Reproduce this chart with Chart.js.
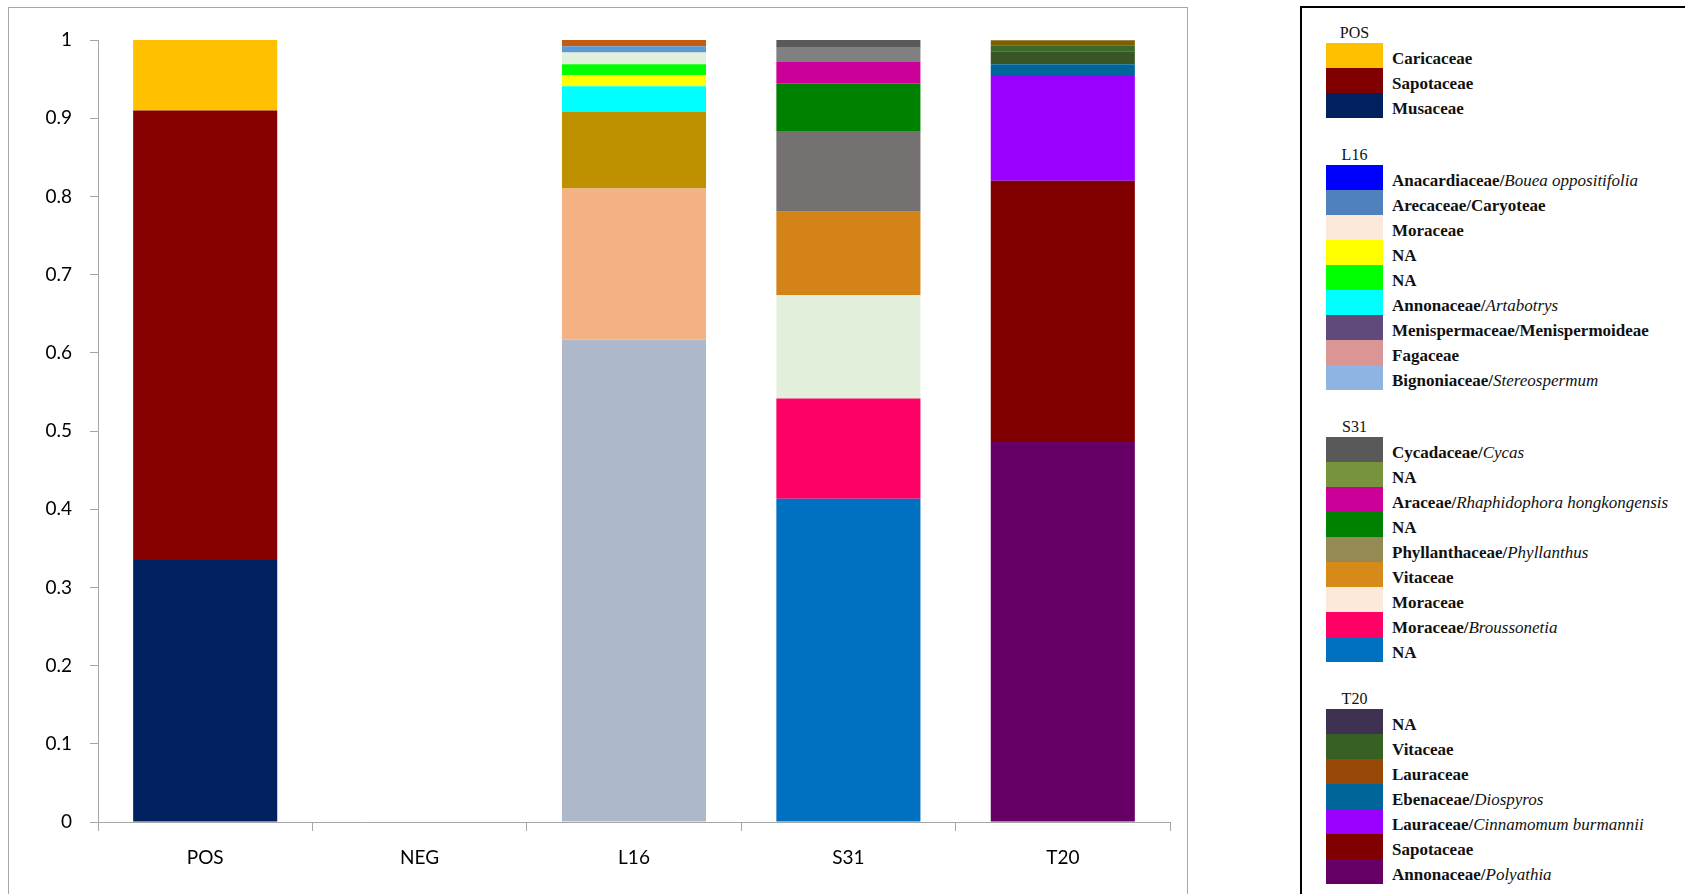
<!DOCTYPE html>
<html>
<head>
<meta charset="utf-8">
<script src="https://cdn.jsdelivr.net/npm/chart.js@4.4.1/dist/chart.umd.min.js"></script>
<style>
  body { margin: 0; background: #fff; width: 1685px; height: 894px; overflow: hidden; position: relative; }
  #plotFrame { position: absolute; left: 8px; top: 7px; width: 1178px; height: 900px; border: 1px solid #A6A6A6; }
  #chartBox { position: absolute; left: 0; top: 0; width: 1190px; height: 894px; }
  #legend { position: absolute; left: 1300px; top: 6px; width: 420px; height: 920px; border: 2px solid #000;
            box-sizing: border-box; padding: 15px 0 0 24px; font-family: "Liberation Serif", "DejaVu Serif", serif; color: #111; }
  .group { margin-bottom: 27px; }
  .head { width: 57px; height: 20px; line-height: 20px; text-align: center; font-size: 16px; }
  .row { height: 25px; display: flex; align-items: center; }
  .sw { width: 57px; height: 25px; flex: none; }
  .lbl { margin-left: 9px; font-size: 17px; font-weight: bold; position: relative; top: 3px; white-space: nowrap; }
  .lbl i { font-weight: normal; }
</style>
</head>
<body>
<div id="plotFrame"></div>
<div id="chartBox"><canvas id="chart"></canvas></div>
<div id="legend"></div>
<script>
// categories on the x axis
const samples = ["POS", "NEG", "L16", "S31", "T20"];
const yTicks = [0, 0.1, 0.2, 0.3, 0.4, 0.5, 0.6, 0.7, 0.8, 0.9, 1];
const yTickLabels = ["0", "0.1", "0.2", "0.3", "0.4", "0.5", "0.6", "0.7", "0.8", "0.9", "1"];

// every list below runs from the bottom of the bar to the top
const posNames = ["Musaceae", "Sapotaceae", "Caricaceae"];
const posValues = [0.335, 0.575, 0.09];
const posBarColors = ["#002060", "#860000", "#FFC000"];
const posLegendColors = ["#002060", "#800000", "#FFC000"];

const l16Names = ["Bignoniaceae/<i>Stereospermum</i>", "Fagaceae", "Menispermaceae/Menispermoideae",
  "Annonaceae/<i>Artabotrys</i>", "NA", "NA", "Moraceae", "Arecaceae/Caryoteae",
  "Anacardiaceae/<i>Bouea oppositifolia</i>"];
const l16Values = [0.617, 0.193, 0.098, 0.033, 0.014, 0.014, 0.015, 0.008, 0.008];
const l16BarColors = ["#ADB9CA", "#F4B183", "#BF9000", "#00FFFF", "#FFFF00", "#00FF00", "#E2EFDA", "#5B9BD5", "#C55A11"];
const l16LegendColors = ["#8EB4E3", "#D99694", "#604A7B", "#00FFFF", "#00FF00", "#FFFF00", "#FDE9D9", "#4F81BD", "#0000FF"];

const s31Names = ["NA", "Moraceae/<i>Broussonetia</i>", "Moraceae", "Vitaceae", "Phyllanthaceae/<i>Phyllanthus</i>",
  "NA", "Araceae/<i>Rhaphidophora hongkongensis</i>", "NA", "Cycadaceae/<i>Cycas</i>"];
const s31Values = [0.4135, 0.128, 0.132, 0.107, 0.103, 0.0605, 0.028, 0.018, 0.010];
const s31BarColors = ["#0070C0", "#FF0066", "#E2EFDA", "#D38317", "#767171", "#008000", "#CC0099", "#808080", "#595959"];
const s31LegendColors = ["#0070C0", "#FF0066", "#FDE9D9", "#D58A1A", "#948A54", "#008000", "#CC0099", "#77933C", "#595959"];

const t20Names = ["Annonaceae/<i>Polyathia</i>", "Sapotaceae", "Lauraceae/<i>Cinnamomum burmannii</i>",
  "Ebenaceae/<i>Diospyros</i>", "Lauraceae", "Vitaceae", "NA"];
const t20Values = [0.486, 0.334, 0.134, 0.015, 0.0166, 0.0077, 0.0064];
const t20BarColors = ["#660066", "#800000", "#9900FF", "#006699", "#375623", "#3A6A28", "#7F6000"];
const t20LegendColors = ["#660066", "#800000", "#9900FF", "#006699", "#984807", "#376123", "#3F3151"];

const groups = [
  { sample: "POS", names: posNames, values: posValues, bar: posBarColors, legend: posLegendColors },
  { sample: "L16", names: l16Names, values: l16Values, bar: l16BarColors, legend: l16LegendColors },
  { sample: "S31", names: s31Names, values: s31Values, bar: s31BarColors, legend: s31LegendColors },
  { sample: "T20", names: t20Names, values: t20Values, bar: t20BarColors, legend: t20LegendColors }
];

// one dataset per bar segment, with a value only in its own sample
const datasets = [];
groups.forEach(g => {
  const idx = samples.indexOf(g.sample);
  g.names.forEach((name, i) => {
    const data = samples.map((_, j) => (j === idx ? g.values[i] : null));
    datasets.push({
      label: g.sample + " " + name.replace(/<[^>]+>/g, ""),
      data,
      backgroundColor: g.bar[i],
      borderWidth: 0,
      barPercentage: 0.672,
      categoryPercentage: 1
    });
  });
});

const tickFont = { family: "Lato, 'Open Sans', sans-serif", size: 19 };
const axisGrey = "#A6A6A6";

new Chart(document.getElementById("chart"), {
  type: "bar",
  data: { labels: samples, datasets },
  options: {
    responsive: true,
    maintainAspectRatio: false,
    animation: false,
    layout: { padding: { left: 0, right: 20, top: 40, bottom: 0 } },
    plugins: { legend: { display: false }, tooltip: { enabled: false } },
    scales: {
      x: {
        stacked: true,
        grid: { offset: true, drawOnChartArea: false, drawTicks: true, tickLength: 9, color: axisGrey },
        border: { color: axisGrey, width: 1 },
        ticks: { color: "#000", font: tickFont, padding: 15, maxRotation: 0 },
        afterFit: s => { s.height = 72; }
      },
      y: {
        stacked: true,
        min: 0,
        max: 1,
        afterBuildTicks: s => { s.ticks = yTicks.map(v => ({ value: v })); },
        grid: { drawOnChartArea: false, drawTicks: true, tickLength: 8, color: axisGrey },
        border: { color: axisGrey, width: 1 },
        ticks: {
          color: "#000", font: tickFont, padding: 18,
          callback: (v, i) => yTickLabels[i]
        },
        afterFit: s => { s.width = 98; }
      }
    }
  }
});

// legend box, read top to bottom
const legendEl = document.getElementById("legend");
groups.forEach(g => {
  const div = document.createElement("div");
  div.className = "group";
  let html = `<div class="head">${g.sample}</div>`;
  for (let i = g.names.length - 1; i >= 0; i--) {
    html += `<div class="row"><div class="sw" style="background:${g.legend[i]}"></div><div class="lbl">${g.names[i]}</div></div>`;
  }
  div.innerHTML = html;
  legendEl.appendChild(div);
});
</script>
</body>
</html>
